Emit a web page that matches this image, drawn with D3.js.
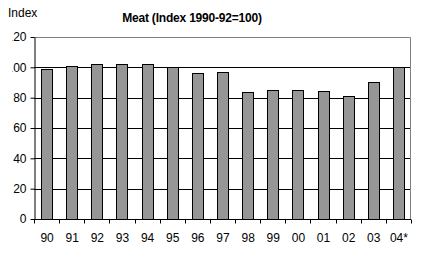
<!DOCTYPE html>
<html>
<head>
<meta charset="utf-8">
<script src="https://cdn.jsdelivr.net/npm/d3@7"></script>
<style>
  body { margin: 0; background: #fff; }
  text { font-family: "Liberation Sans", Arial, sans-serif; }
</style>
</head>
<body>
<div id="chart"></div>
<script>
// data
var years = ["90", "91", "92", "93", "94", "95", "96", "97", "98", "99", "00", "01", "02", "03", "04*"];
var meatIndex = [99, 101, 102, 102, 102, 100, 96.5, 97, 84, 85.3, 85.3, 84.7, 81.3, 90.5, 100];
var yTicks = [0, 20, 40, 60, 80, 100, 120];

var W = 429, H = 255;
var margin = { top: 37, right: 18, bottom: 36, left: 34 },
  width = W - margin.left - margin.right,
  height = H - margin.top - margin.bottom;

var svg = d3.select("#chart").append("svg")
  .attr("width", W)
  .attr("height", H);

// the left edge of the picture cuts off the leading digit of 3-digit labels
svg.append("clipPath").attr("id", "lclip")
  .append("rect").attr("x", 12.5).attr("y", 0).attr("width", W).attr("height", H);

var g = svg.append("g")
  .attr("clip-path", "url(#lclip)")
  .append("g")
  .attr("transform", "translate(" + margin.left + "," + margin.top + ")");

var x = d3.scaleBand().domain(years).range([0, width]).paddingInner(0.56).paddingOuter(0.28);
var band = d3.scaleBand().domain(years).range([0, width]);
var y = d3.scaleLinear().domain([0, 120]).range([height, 0]);

// gridlines
g.selectAll("line.grid")
  .data(yTicks.filter(function(d) { return d > 0 && d < 120; }))
  .enter().append("line")
  .attr("x1", 0).attr("x2", width)
  .attr("y1", function(d) { return Math.round(y(d)) + 0.5; })
  .attr("y2", function(d) { return Math.round(y(d)) + 0.5; })
  .attr("stroke", "#000").attr("stroke-width", 1);

// plot border top / right (gray)
g.append("path")
  .attr("d", "M0," + (Math.round(y(120)) + 0.5) + "H" + (width - 0.5) + "V" + height)
  .attr("fill", "none").attr("stroke", "#808080").attr("stroke-width", 1);

// bars
g.selectAll("rect.bar")
  .data(meatIndex)
  .enter().append("rect")
  .attr("x", function(d, i) { return Math.round(x(years[i])) + 0.5; })
  .attr("width", Math.round(x.bandwidth()))
  .attr("y", function(d) { return Math.round(y(d)) + 0.5; })
  .attr("height", function(d) { return Math.round(height - y(d)); })
  .attr("fill", "#969696")
  .attr("stroke", "#000").attr("stroke-width", 1);

// y axis
var yAxis = g.append("g")
  .attr("transform", "translate(0.5,0)")
  .call(d3.axisLeft(y).tickValues(yTicks).tickSize(4).tickPadding(4).tickSizeOuter(0));
yAxis.select(".domain").attr("stroke", "#000");
yAxis.selectAll("text")
  .attr("font-family", null)
  .attr("font-size", "12px")
  .attr("fill", "#000");

// x axis: ticks at band boundaries, labels at band centres
var xg = g.append("g").attr("transform", "translate(0," + (height + 0.5) + ")");
xg.append("line").attr("x1", 0).attr("x2", width).attr("stroke", "#000");
xg.selectAll("line.tick")
  .data(years.concat(["end"]))
  .enter().append("line")
  .attr("x1", function(d, i) { return Math.round(i * band.bandwidth()) + 0.5; })
  .attr("x2", function(d, i) { return Math.round(i * band.bandwidth()) + 0.5; })
  .attr("y1", 0).attr("y2", 4)
  .attr("stroke", "#000");
xg.selectAll("text")
  .data(years)
  .enter().append("text")
  .attr("x", function(d) { return band(d) + band.bandwidth() / 2 + 0.5; })
  .attr("y", 22)
  .attr("text-anchor", "middle")
  .attr("font-size", "12px")
  .text(function(d) { return d; });

// axis title and chart title
svg.append("text")
  .attr("x", 8).attr("y", 17)
  .attr("font-size", "12px")
  .text("Index");

svg.append("text")
  .attr("x", 192).attr("y", 22)
  .attr("text-anchor", "middle")
  .attr("font-size", "12px")
  .attr("font-weight", "bold")
  .attr("letter-spacing", "-0.2px")
  .text("Meat (Index 1990-92=100)");
</script>
</body>
</html>
